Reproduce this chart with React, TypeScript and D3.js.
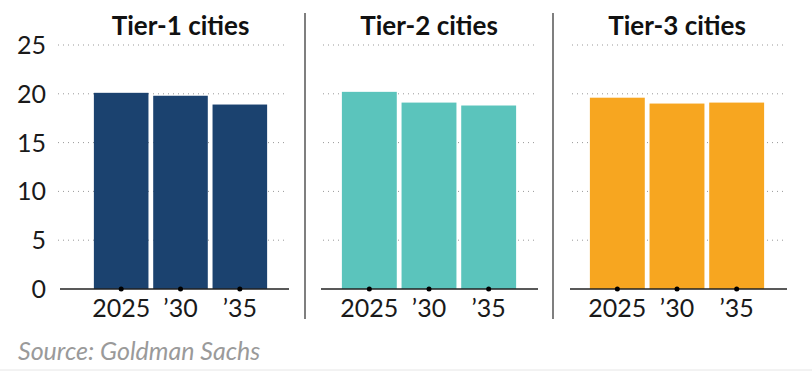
import React, { useEffect, useRef } from "react";
import * as d3 from "d3";

const tiers = ["Tier-1 cities", "Tier-2 cities", "Tier-3 cities"];
const years = ["2025", "’30", "’35"];
const tier1 = [20.1, 19.8, 18.9];
const tier2 = [20.2, 19.1, 18.8];
const tier3 = [19.6, 19.0, 19.1];
const yTicks = [0, 5, 10, 15, 20, 25];
const colors = ["#1b426f", "#5bc4bc", "#f7a620"];
const source = "Source: Goldman Sachs";

const App = () => {
  const ref = useRef<SVGSVGElement>(null);

  useEffect(() => {
    const svg = d3.select(ref.current);
    svg.selectAll("*").remove();

    const width = 812;
    const height = 371;
    const font = "Lato, 'Noto Sans', sans-serif";

    const y = d3.scaleLinear().domain([0, 25]).range([289, 45]);

    // panel geometry: axis line extent, grid extent, bar band extent
    const panels = [
      { axis: [60, 289], grid: [58, 285], bars: [91.5, 269.5], values: tier1 },
      { axis: [321, 538], grid: [323, 534], bars: [339.5, 518.5], values: tier2 },
      { axis: [570, 787], grid: [572, 787], bars: [587.5, 766.5], values: tier3 },
    ];

    // y tick labels
    svg
      .append("g")
      .attr("font-family", font)
      .attr("font-size", 25)
      .attr("fill", "#1a1a1a")
      .attr("text-anchor", "end")
      .selectAll("text")
      .data(yTicks)
      .join("text")
      .attr("x", 46)
      .attr("y", (d) => y(d))
      .attr("dy", "0.36em")
      .text((d) => d);

    // separators
    svg
      .append("g")
      .selectAll("line")
      .data([305, 553])
      .join("line")
      .attr("x1", (d) => d)
      .attr("x2", (d) => d)
      .attr("y1", 13)
      .attr("y2", 319)
      .attr("stroke", "#555")
      .attr("stroke-width", 1.5);

    panels.forEach((p, i) => {
      const g = svg.append("g");
      const x = d3
        .scaleBand<string>()
        .domain(years)
        .range(p.bars as [number, number])
        .paddingInner(0.08)
        .paddingOuter(0.04);

      // dotted grid
      g.append("g")
        .selectAll("line")
        .data(yTicks.filter((d) => d > 0))
        .join("line")
        .attr("x1", p.grid[0])
        .attr("x2", p.grid[1])
        .attr("y1", (d) => y(d))
        .attr("y2", (d) => y(d))
        .attr("stroke", "#999")
        .attr("stroke-width", 1)
        .attr("stroke-dasharray", "1,4");

      // bars
      g.append("g")
        .selectAll("rect")
        .data(p.values)
        .join("rect")
        .attr("x", (_, j) => x(years[j])!)
        .attr("width", x.bandwidth())
        .attr("y", (d) => y(d))
        .attr("height", (d) => y(0) - y(d))
        .attr("fill", colors[i]);

      // baseline
      g.append("line")
        .attr("x1", p.axis[0])
        .attr("x2", p.axis[1])
        .attr("y1", y(0))
        .attr("y2", y(0))
        .attr("stroke", "#222")
        .attr("stroke-width", 1.5);

      // tick dots
      g.append("g")
        .selectAll("circle")
        .data(years)
        .join("circle")
        .attr("cx", (d) => x(d)! + x.bandwidth() / 2)
        .attr("cy", y(0))
        .attr("r", 2.5)
        .attr("fill", "#000");

      // x labels
      g.append("g")
        .attr("font-family", font)
        .attr("font-size", 25)
        .attr("fill", "#1a1a1a")
        .attr("text-anchor", "middle")
        .selectAll("text")
        .data(years)
        .join("text")
        .attr("x", (d) => x(d)! + x.bandwidth() / 2)
        .attr("y", 317)
        .text((d) => d);

      // title
      g.append("text")
        .attr("x", (p.bars[0] + p.bars[1]) / 2)
        .attr("y", 35)
        .attr("text-anchor", "middle")
        .attr("font-family", font)
        .attr("font-weight", "bold")
        .attr("font-size", 26)
        .attr("fill", "#111")
        .text(tiers[i]);
    });

    svg
      .append("text")
      .attr("x", 18)
      .attr("y", 360)
      .attr("font-family", font)
      .attr("font-style", "italic")
      .attr("font-size", 25)
      .attr("fill", "#9a9a9a")
      .text(source);

    svg
      .append("line")
      .attr("x1", 0)
      .attr("x2", width)
      .attr("y1", height - 1)
      .attr("y2", height - 1)
      .attr("stroke", "#e6e6e6");
  }, []);

  return (
    <div style={{ position: "absolute", left: 0, top: 0 }}>
      <svg ref={ref} width={812} height={371} style={{ display: "block" }} />
    </div>
  );
};

export default App;
